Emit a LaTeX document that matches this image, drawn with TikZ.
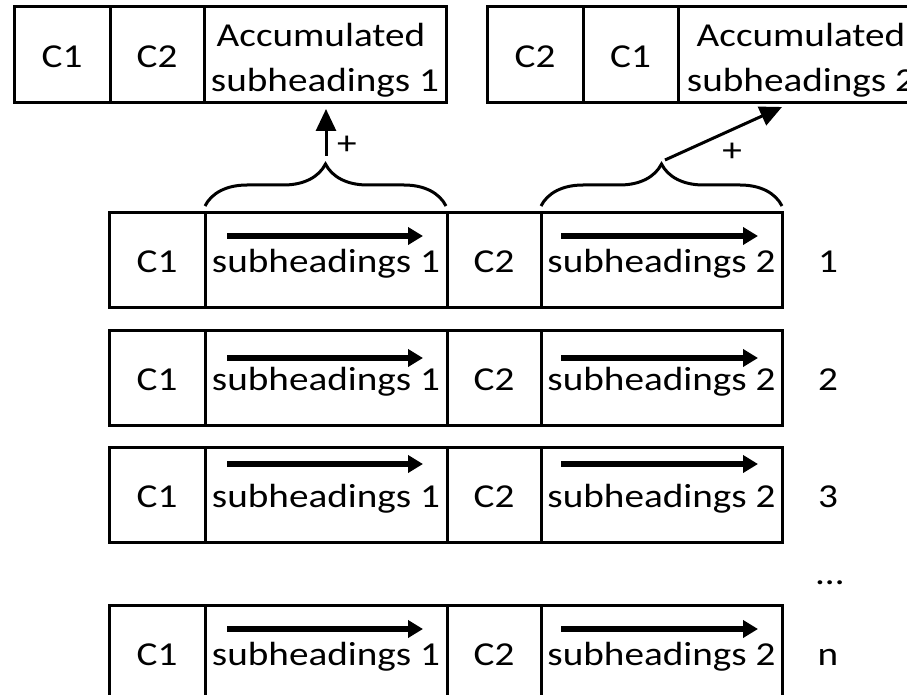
\documentclass[tikz,border=0pt]{standalone}
\usepackage{fontspec}
\setmainfont{Carlito}[FakeStretch=1.17]
\usetikzlibrary{arrows.meta,decorations.pathreplacing}
\begin{document}
\begin{tikzpicture}[x=1pt,y=-1pt,
  cell/.style={draw, line width=3pt, inner sep=0pt, outer sep=0pt, anchor=north west,
    minimum height=95pt, text height=25pt, text depth=0pt, font=\fontsize{33.5}{40}\selectfont},
  txt/.style={anchor=base, inner sep=0pt, font=\fontsize{33.5}{40}\selectfont},
  plus/.style={anchor=center, inner sep=0pt, font=\fontsize{33.5}{40}\selectfont},
  bracestyle/.style={decorate, decoration={brace, amplitude=42pt}, line width=3pt},
  bigarrow/.style={line width=3pt, -{Triangle[length=22pt,width=20pt]}},
  rowarrow/.style={line width=5.5pt, -{Triangle[length=15pt,width=17pt]}}]
\useasboundingbox (0,0) rectangle (907,695);
\clip (0,0) rectangle (907,695);
% top-left box
\node[cell, minimum height=96pt, minimum width=96pt] (tlc1) at (14,7) {C1};
\node[cell, minimum height=96pt, minimum width=94pt] (tlc2) at (110,7) {C2};
\node[cell, minimum height=96pt, minimum width=242pt] (acc1) at (204,7) {};
\node[txt] (acc1a) at (321,47) {Accumulated};
\node[txt] (acc1b) at (325,92) {subheadings 1};
% top-right box
\node[cell, minimum height=96pt, minimum width=96pt] (trc2) at (487,7) {C2};
\node[cell, minimum height=96pt, minimum width=95pt] (trc1) at (583,7) {C1};
\node[cell, minimum height=96pt, minimum width=246pt] (acc2) at (678,7) {};
\node[txt] (acc2a) at (801,47) {Accumulated};
\node[txt] (acc2b) at (801,92) {subheadings 2};
% rows
\foreach \yy/\lab/\off in {212/1/24, 330/2/28, 447/3/17, 605/n/24}{
  \pgfmathsetmacro{\ay}{\yy+\off}
  \pgfmathsetmacro{\by}{\yy+60}
  \node[cell, minimum width=96pt] (r\lab c1) at (109,\yy) {C1};
  \node[cell, minimum width=242pt] (r\lab s1) at (205,\yy) {subheadings 1};
  \node[cell, minimum width=94pt] (r\lab c2) at (447,\yy) {C2};
  \node[cell, minimum width=241pt] (r\lab s2) at (541,\yy) {subheadings 2};
  \coordinate (r\lab a1s) at (227,\ay);
  \coordinate (r\lab a1e) at (423,\ay);
  \coordinate (r\lab a2s) at (561,\ay);
  \coordinate (r\lab a2e) at (758,\ay);
  \draw[rowarrow] (r\lab a1s) -- (r\lab a1e);
  \draw[rowarrow] (r\lab a2s) -- (r\lab a2e);
  \node[txt] (num\lab) at (828,\by) {\lab};
}
\node[txt] (dots) at (830,584) {…};
% braces
\draw[bracestyle] (205,206) -- (446,206);
\draw[bracestyle] (541,206) -- (782,206);
\coordinate (b1) at (326,156);
\coordinate (b2) at (665,160);
\coordinate (a2) at (782,107);
\draw[bigarrow, shorten >=6pt] (b1) -- (b1 |- acc1.south);
\draw[bigarrow] (b2) -- (a2);
\node[plus] (p1) at (347,145) {+};
\node[plus] (p2) at (732,152) {+};
\end{tikzpicture}
\end{document}
